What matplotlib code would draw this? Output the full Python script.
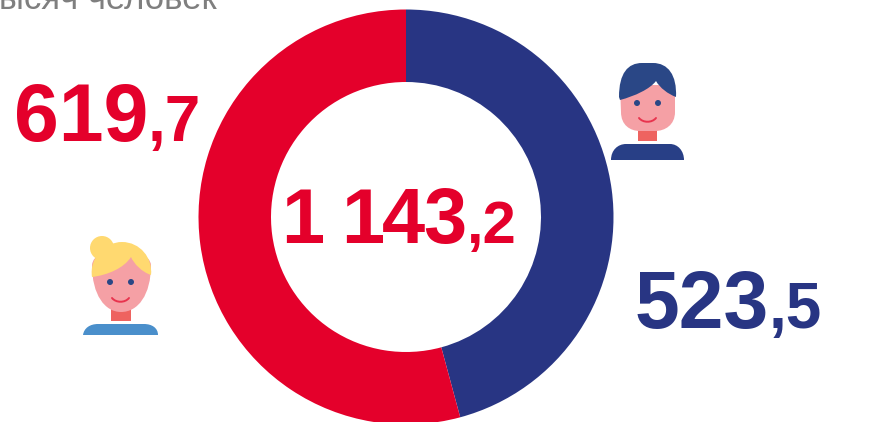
import matplotlib
matplotlib.use('Agg')
import matplotlib.pyplot as plt
from matplotlib.patches import Circle, PathPatch, Rectangle
from matplotlib.path import Path

values = [523.5, 619.7]
colors = ['#283583', '#E4002B']
total_label = ('1 143', ',2')
women_label = ('619', ',7')
men_label = ('523', ',5')
unit_label = 'тысяч человек'

W, H = 882, 422
plt.rcParams['font.family'] = ['Liberation Sans', 'DejaVu Sans']
fig = plt.figure(figsize=(W / 100, H / 100), dpi=100)

# donut, axes placed in pixels
cx, cy, r = 406, 217, 207.5
pie_ax = fig.add_axes([(cx - r) / W, 1 - (cy + r) / H, 2 * r / W, 2 * r / H])
pie_ax.pie(values, colors=colors, startangle=90, counterclock=False, radius=1,
           wedgeprops=dict(width=1 - 135 / r), frame=False)
pie_ax.set_xlim(-1, 1)
pie_ax.set_ylim(-1, 1)
pie_ax.set_aspect('equal')
pie_ax.axis('off')

# overlay in pixel coords for text and icons
ax = fig.add_axes([0, 0, 1, 1])
ax.set_xlim(0, W)
ax.set_ylim(H, 0)
ax.axis('off')
ax.patch.set_alpha(0)


def number(label, x, y, color, big=58, small=46):
    ax.text(x, y, label[0], color=color, fontsize=big, fontweight='bold', ha='right', va='baseline')
    ax.text(x, y, label[1], color=color, fontsize=small, fontweight='bold', ha='left', va='baseline')


def shape(points, color, z=3):
    # points: start, then bezier triples or single line points
    verts = [points[0]]
    codes = [Path.MOVETO]
    for p in points[1:]:
        if len(p) == 3:
            verts.extend(p)
            codes.extend([Path.CURVE4] * 3)
        else:
            verts.append(p)
            codes.append(Path.LINETO)
    verts.append(points[0])
    codes.append(Path.CLOSEPOLY)
    ax.add_patch(PathPatch(Path(verts, codes), fc=color, ec='none', zorder=z))


def smile(x0, x1, y, low, color):
    path = Path([(x0, y), (x0 + 4, low + 1), (x1 - 4, low + 1), (x1, y)],
                [Path.MOVETO, Path.CURVE4, Path.CURVE4, Path.CURVE4])
    ax.add_patch(PathPatch(path, fc='none', ec=color, lw=1.4, capstyle='round', zorder=5))


ax.text(217, 9, unit_label, color='#7F7F7F', fontsize=25, ha='right', va='baseline')
number(women_label, 148, 141, colors[1])
number(men_label, 769, 328, colors[0])

# the centre total is set tighter, digit by digit from the right
x = 466
for ch in reversed(total_label[0]):
    if ch == ' ':
        x -= 19
        continue
    ax.text(x, 243, ch, color=colors[1], fontsize=56, fontweight='bold', ha='right', va='baseline')
    x -= 41
ax.text(467, 243, total_label[1], color=colors[1], fontsize=43, fontweight='bold', ha='left', va='baseline')

# man icon
shape([(611, 160), ((611, 150), (618, 144), (626, 144)), (670, 144),
       ((678, 144), (684, 151), (684, 160))], '#283F86')
ax.add_patch(Rectangle((638, 128), 19, 13, fc='#EE6360', ec='none', zorder=3))
shape([(620, 85), (675, 85), (675, 112), ((675, 125), (665, 131), (655, 131)), (640, 131),
       ((630, 131), (621, 125), (621, 112))], '#F5A0A5', 4)
shape([(619, 97), ((619, 73), (628, 63), (642, 63)), (653, 63), ((668, 63), (677, 75), (676, 97)),
       ((668, 94), (660, 88), (656, 81)), ((650, 89), (635, 96), (620, 100))], '#2A4786', 5)
for x in (637, 658):
    ax.add_patch(Circle((x, 103), 3, fc='#2A4786', ec='none', zorder=6))
smile(639, 656, 118, 122, '#E8344E')

# woman icon
shape([(83, 335), ((84, 328), (90, 324), (98, 324)), (144, 324),
       ((152, 324), (158, 328), (158, 335))], '#4A8FCB')
ax.add_patch(Rectangle((111, 305), 20, 16, fc='#EE6360', ec='none', zorder=3))
shape([(92, 265), ((92, 295), (105, 312), (121, 312)), ((138, 312), (151, 295), (151, 265)),
       ((150, 255), (135, 250), (121, 250)), ((105, 250), (93, 255), (92, 265))], '#F5A0A5', 4)
ax.add_patch(Circle((102, 248), 12, fc='#FFD970', ec='none', zorder=5))
shape([(92, 277), ((89, 258), (105, 242), (122, 242)), ((140, 242), (153, 258), (151, 275)),
       ((142, 272), (134, 264), (131, 257)), ((124, 268), (108, 275), (92, 277))], '#FFD970', 5)
for x in (110, 131):
    ax.add_patch(Circle((x, 282), 3, fc='#2A4786', ec='none', zorder=6))
smile(112, 129, 298, 302, '#E8344E')

fig.savefig('out.png', dpi=100)
